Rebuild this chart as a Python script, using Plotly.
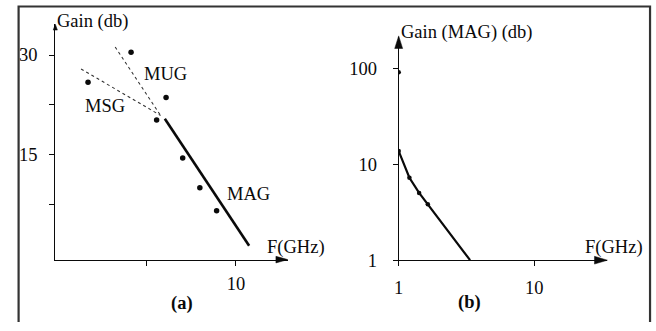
import plotly.graph_objects as go

W, H = 656, 331

# ---------------- data ----------------
# Panel (a): measured gain points (GHz, dB)
a_freq = [1.72, 4.13, 6.09, 5.56, 7.02, 7.98, 8.92]
a_gain = [25.9, 30.4, 23.6, 20.2, 14.5, 10.0, 6.55]
# MAG asymptote (solid), MSG and MUG (dotted)
mag_freq = [6.02, 10.74]
mag_gain = [20.4, 1.3]
msg_freq = [1.33, 5.78]
msg_gain = [27.9, 20.9]
mug_freq = [3.24, 5.78]
mug_gain = [31.2, 20.9]

# Panel (b): log-log MAG curve and points
b_line_freq = [1.0, 1.2, 1.415, 1.64, 3.36]
b_line_gain = [13.8, 7.27, 5.04, 3.83, 1.0]
b_pts_freq = [1.0, 1.2, 1.415, 1.64, 1.0]
b_pts_gain = [13.8, 7.27, 5.04, 3.83, 92]

a_yticks = [7.5, 15, 22.5, 30]
a_yticklabels = ["", "15", "", "30"]
a_xticks = [5, 10]
a_xticklabels = ["", "10"]
b_xticks = [1, 10]
b_yticks = [1, 10, 100]

FONT = "Liberation Serif"
INK = "#0a0a0a"


def px(x):
    return x / W


def py(y):
    return 1 - y / H


fig = go.Figure()

fig.add_trace(go.Scatter(x=msg_freq, y=msg_gain, mode="lines",
                         line=dict(color="#333", width=1.1, dash="dot"),
                         xaxis="x", yaxis="y", showlegend=False))
fig.add_trace(go.Scatter(x=mug_freq, y=mug_gain, mode="lines",
                         line=dict(color="#333", width=1.1, dash="dot"),
                         xaxis="x", yaxis="y", showlegend=False))
fig.add_trace(go.Scatter(x=mag_freq, y=mag_gain, mode="lines",
                         line=dict(color=INK, width=2.6),
                         xaxis="x", yaxis="y", showlegend=False))
fig.add_trace(go.Scatter(x=a_freq, y=a_gain, mode="markers",
                         marker=dict(color=INK, size=5.5),
                         xaxis="x", yaxis="y", showlegend=False))

fig.add_trace(go.Scatter(x=b_line_freq, y=b_line_gain, mode="lines",
                         line=dict(color=INK, width=2.2),
                         xaxis="x2", yaxis="y2", showlegend=False))
fig.add_trace(go.Scatter(x=b_pts_freq, y=b_pts_gain, mode="markers",
                         marker=dict(color=INK, size=4.5),
                         xaxis="x2", yaxis="y2", showlegend=False))

axis_common = dict(showgrid=False, zeroline=False, showline=True,
                   linecolor=INK, linewidth=1.2, ticks="outside",
                   ticklen=5, tickwidth=1.2, tickcolor=INK,
                   tickfont=dict(family=FONT, size=18.5, color=INK))

fig.update_layout(
    width=W, height=H,
    margin=dict(l=0, r=0, t=0, b=0),
    paper_bgcolor="white", plot_bgcolor="rgba(0,0,0,0)",
    xaxis=dict(domain=[px(50.7), px(285)], range=[-0.111, 12.906],
               tickvals=a_xticks, ticktext=a_xticklabels, anchor="y",
               ticklabelstandoff=2, **axis_common),
    yaxis=dict(domain=[py(267.7), py(25)], range=[-0.8, 34.63],
               tickvals=a_yticks, ticktext=a_yticklabels, anchor="x",
               ticklabelstandoff=8, **axis_common),
    xaxis2=dict(type="log", domain=[px(396.7), px(606.7)], range=[0, 1.536],
                tickvals=b_xticks, ticktext=["1", "10"], anchor="y2",
                ticklabelstandoff=6, **axis_common),
    yaxis2=dict(type="log", domain=[py(268.3), py(38)], range=[0, 2.333],
                tickvals=b_yticks, ticktext=["1", "10", "100"], anchor="x2",
                ticklabelstandoff=12, **axis_common),
)


def tri(points):
    p = " L ".join(f"{px(x):.5f},{py(y):.5f}" for x, y in points)
    return "M " + p + " Z"


shapes = [
    # border (open at bottom)
    dict(type="path", xref="paper", yref="paper",
         path=f"M {px(13.7):.5f},{py(332):.5f} L {px(13.7):.5f},{py(6.7):.5f} "
              f"L {px(650):.5f},{py(6.7):.5f} L {px(650):.5f},{py(332):.5f}",
         line=dict(color="#333333", width=2.2)),
    # arrowheads
    dict(type="path", xref="paper", yref="paper",
         path=tri([(285, 267.7), (273, 264.3), (273, 271.1)]),
         fillcolor=INK, line=dict(color=INK, width=0.5)),
    dict(type="path", xref="paper", yref="paper",
         path=tri([(50.7, 25), (48.6, 31), (52.8, 31)]),
         fillcolor=INK, line=dict(color=INK, width=0.5)),
    dict(type="path", xref="paper", yref="paper",
         path=tri([(396.7, 37), (392.7, 50), (400.7, 50)]),
         fillcolor=INK, line=dict(color=INK, width=0.5)),
    dict(type="path", xref="paper", yref="paper",
         path=tri([(607, 268.3), (594, 264.3), (594, 272.3)]),
         fillcolor=INK, line=dict(color=INK, width=0.5)),
]
fig.update_layout(shapes=shapes)

labels = [
    ("Gain (db)", 88.5, 22, False),
    ("MUG", 161.7, 76.7, False),
    ("MSG", 101, 109, False),
    ("MAG", 245, 200, False),
    ("F(GHz)", 293.3, 255, False),
    ("(a)", 178, 313, True),
    ("Gain (MAG) (db)", 465.8, 33, False),
    ("F(GHz)", 613.3, 255, False),
    ("(b)", 468.3, 311.7, True),
]
for text, x, y, bold in labels:
    fig.add_annotation(text=f"<b>{text}</b>" if bold else text,
                       x=px(x), y=py(y), xref="paper", yref="paper",
                       xanchor="center", yanchor="middle", showarrow=False,
                       font=dict(family=FONT, size=18.5, color=INK))

fig.write_html("out.html",
               config={"displayModeBar": False},
               post_script="document.body.style.margin='0';"
                           "document.body.style.overflow='hidden';")
